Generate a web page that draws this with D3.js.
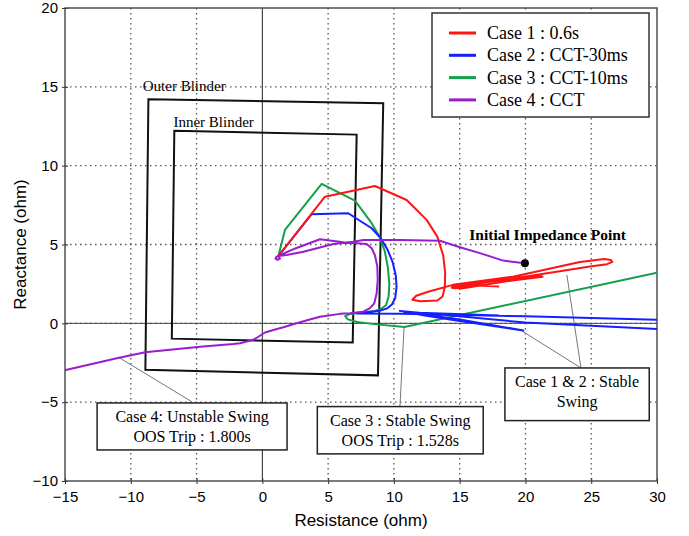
<!DOCTYPE html>
<html>
<head>
<meta charset="utf-8">
<script src="https://cdnjs.cloudflare.com/ajax/libs/d3/7.8.5/d3.min.js"></script>
<style>
  body { margin: 0; background: #fff; }
  svg { display: block; }
</style>
</head>
<body>
<div class="canvas"></div>
<script>
// ---- data (R, X) in ohm ----
const xTicks = [-15, -10, -5, 0, 5, 10, 15, 20, 25, 30];
const yTicks = [-10, -5, 0, 5, 10, 15, 20];

const seriesNames = ["Case 1 : 0.6s", "Case 2 : CCT-30ms", "Case 3 : CCT-10ms", "Case 4 : CCT"];
const seriesColors = ["#ff1414", "#1420ff", "#12a048", "#9a1ccf"];

const case1 = [
  [1.22, 4.27], [4.76, 8.03], [8.56, 8.71], [10.97, 7.82], [12.49, 6.56], [13.3, 5.5],
  [13.75, 4.3], [13.9, 3.2], [13.87, 2.3], [13.7, 1.7], [13.3, 1.45], [12.0, 1.4],
  [11.4, 1.5], [11.7, 1.75], [12.6, 2.0], [14.49, 2.44], [19.05, 2.96], [24.14, 3.89],
  [26.0, 4.08], [26.5, 4.02], [26.6, 3.9], [26.2, 3.75], [24.9, 3.6], [20.3, 3.0],
  [15.5, 2.45], [14.5, 2.33], [14.4, 2.25], [14.7, 2.22], [17.0, 2.6], [21.0, 3.05],
  [21.3, 2.95], [19.0, 2.72], [15.0, 2.2], [14.6, 2.28], [16.5, 2.4], [18.0, 2.33]
];
const case2 = [
  [1.22, 4.27], [3.75, 6.92], [6.53, 6.98], [8.31, 6.03], [9.0, 5.4], [9.5, 4.7],
  [9.9, 3.9], [10.15, 3.0], [10.2, 2.3], [10.1, 1.6], [9.85, 1.2], [9.5, 0.95],
  [8.9, 0.8], [8.0, 0.7], [7.17, 0.63], [10.5, 0.6], [20.0, 0.45], [31.0, 0.2],
  [31.0, -0.4], [20.0, 0.05], [10.45, 0.79], [15.0, 0.25], [19.84, -0.46], [15.0, 0.15],
  [10.8, 0.7], [18.0, 0.5]
];
const case3 = [
  [1.22, 4.27], [1.72, 5.92], [4.51, 8.84], [7.04, 7.78], [8.31, 6.35], [8.9, 5.5],
  [9.3, 4.6], [9.55, 3.5], [9.65, 2.5], [9.6, 1.7], [9.4, 1.15], [9.0, 0.9],
  [8.4, 0.76], [7.4, 0.68], [6.6, 0.58], [6.3, 0.45], [6.5, 0.25], [7.2, 0.08],
  [8.5, -0.05], [10.8, -0.23], [30.0, 3.21]
];
const case4 = [
  [19.96, 3.81], [18.31, 3.98], [16.54, 4.45], [15.02, 4.83], [13.5, 5.24], [10.46, 5.29],
  [7.67, 5.29], [6.91, 5.18], [5.4, 5.03], [3.12, 4.54], [1.85, 4.34], [1.22, 4.27],
  [1.05, 4.2], [1.0, 4.1], [1.15, 4.03], [1.35, 4.1], [1.22, 4.27], [2.5, 4.75],
  [4.38, 5.33], [6.16, 5.15], [7.93, 5.03], [8.31, 4.76], [8.56, 4.32], [8.74, 3.6],
  [8.77, 2.75], [8.69, 1.91], [8.51, 1.27], [8.18, 0.96], [7.67, 0.74], [6.66, 0.64],
  [5.9, 0.6], [4.38, 0.42], [3.4, 0.2], [2.61, 0.01], [1.6, -0.25], [0.84, -0.42],
  [0.2, -0.58], [-0.3, -0.85], [-0.7, -1.05], [-1.69, -1.26], [-2.2, -1.31], [-4.73, -1.48],
  [-8.91, -1.83], [-11.06, -2.21], [-14.86, -2.95], [-16.0, -3.18]
];
const allCases = [case1, case2, case3, case4];

const outerBlinder = [[-8.66, 14.21], [9.19, 13.96], [8.79, -3.3], [-8.89, -2.95]];
const innerBlinder = [[-6.69, 12.22], [7.17, 11.97], [6.87, -1.22], [-6.88, -0.97]];

const initialPoint = [19.96, 3.81];

// annotation boxes: [x0, y0, x1, y1] in ohm, text lines, leader lines
const notes = [
  { box: [-12.56, -5.05, 1.88, -8.03], lines: ["Case 4: Unstable Swing", "OOS Trip : 1.800s"],
    leaders: [[[-10.94, -2.15], [-5.36, -4.97]]] },
  { box: [4.18, -5.28, 16.79, -8.28], lines: ["Case 3 : Stable Swing", "OOS Trip : 1.528s"],
    leaders: [[[10.77, -0.29], [10.46, -5.28]]] },
  { box: [18.44, -2.83, 29.41, -6.17], lines: ["Case 1 & 2 : Stable", "Swing"],
    leaders: [[[23.15, 3.07], [24.22, -2.83]], [[19.73, -0.48], [24.22, -2.83]]] }
];

// ---- layout ----
const w = 689;
const h = 536;
const margin = { top: 8, right: 32, bottom: 55, left: 65 };
const graphWidth = w - margin.left - margin.right;
const graphHeight = h - margin.top - margin.bottom;

const svg = d3.select(".canvas").append("svg").attr("width", w).attr("height", h);

const graph = svg.append("g").attr("transform", `translate(${margin.left}, ${margin.top})`);

const xScale = d3.scaleLinear().domain([-15, 30]).range([0, graphWidth]);
const yScale = d3.scaleLinear().domain([-10, 20]).range([graphHeight, 0]);

svg.append("defs").append("clipPath").attr("id", "clip")
  .append("rect").attr("width", graphWidth).attr("height", graphHeight);

// dotted grid
graph.append("g").selectAll("line")
  .data(xTicks.filter((d) => d !== 0 && d !== -15 && d !== 30))
  .join("line")
  .attr("x1", (d) => xScale(d)).attr("x2", (d) => xScale(d))
  .attr("y1", 0).attr("y2", graphHeight)
  .attr("stroke", "#555").attr("stroke-width", 1.3).attr("stroke-dasharray", "1.5,3.5");

graph.append("g").selectAll("line")
  .data(yTicks.filter((d) => d !== -10 && d !== 20))
  .join("line")
  .attr("x1", 0).attr("x2", graphWidth)
  .attr("y1", (d) => yScale(d)).attr("y2", (d) => yScale(d))
  .attr("stroke", "#555").attr("stroke-width", 1.3).attr("stroke-dasharray", "1.5,3.5");

// zero axes
graph.append("line")
  .attr("x1", xScale(0)).attr("x2", xScale(0)).attr("y1", 0).attr("y2", graphHeight)
  .attr("stroke", "#222").attr("stroke-width", 1);
graph.append("line")
  .attr("x1", 0).attr("x2", graphWidth).attr("y1", yScale(0)).attr("y2", yScale(0))
  .attr("stroke", "#444").attr("stroke-width", 1);

// axes
const xAxis = d3.axisBottom(xScale).tickValues(xTicks).tickSizeInner(4).tickSizeOuter(0).tickPadding(6);
const yAxis = d3.axisLeft(yScale).tickValues(yTicks).tickSizeInner(4).tickSizeOuter(0).tickPadding(3);

const gx = graph.append("g").attr("transform", `translate(0, ${graphHeight})`).call(xAxis);
const gy = graph.append("g").call(yAxis);
[gx, gy].forEach((g) => {
  g.select(".domain").remove();
  g.selectAll("text").style("font-family", "Liberation Sans, Arial, sans-serif").style("font-size", "15px").attr("fill", "#000");
  g.selectAll("line").attr("stroke", "#333");
});
gx.selectAll(".tick line").attr("y1", -3).attr("y2", 3);
gy.selectAll(".tick line").attr("x1", -3).attr("x2", 3);

// frame
graph.append("rect")
  .attr("width", graphWidth).attr("height", graphHeight)
  .attr("fill", "none").attr("stroke", "#444").attr("stroke-width", 1.4);

// axis titles
svg.append("text")
  .attr("x", margin.left + graphWidth / 2).attr("y", h - 10)
  .attr("text-anchor", "middle")
  .style("font-family", "Liberation Sans, Arial, sans-serif").style("font-size", "17px")
  .text("Resistance (ohm)");
svg.append("text")
  .attr("transform", `translate(26, ${margin.top + graphHeight / 2}) rotate(-90)`)
  .attr("text-anchor", "middle")
  .style("font-family", "Liberation Sans, Arial, sans-serif").style("font-size", "17px")
  .text("Reactance (ohm)");

// blinders
const polyLine = d3.line().x((d) => xScale(d[0])).y((d) => yScale(d[1])).curve(d3.curveLinearClosed);
[outerBlinder, innerBlinder].forEach((b) => {
  graph.append("path").attr("d", polyLine(b))
    .attr("fill", "none").attr("stroke", "#111").attr("stroke-width", 2);
});

graph.append("text")
  .attr("x", xScale(-9.09)).attr("y", yScale(14.76))
  .style("font-family", "Liberation Serif, Times New Roman, serif").style("font-size", "15px")
  .text("Outer Blinder");
graph.append("text")
  .attr("x", xScale(-6.76)).attr("y", yScale(12.47))
  .style("font-family", "Liberation Serif, Times New Roman, serif").style("font-size", "15px")
  .text("Inner Blinder");

// leader lines
notes.forEach((n) => {
  n.leaders.forEach((l) => {
    graph.append("line")
      .attr("x1", xScale(l[0][0])).attr("y1", yScale(l[0][1]))
      .attr("x2", xScale(l[1][0])).attr("y2", yScale(l[1][1]))
      .attr("stroke", "#777").attr("stroke-width", 1);
  });
});

// swing curves
const swing = d3.line().x((d) => xScale(d[0])).y((d) => yScale(d[1]));
const curves = graph.append("g").attr("clip-path", "url(#clip)");
[2, 1, 0, 3].forEach((i) => {
  curves.append("path").attr("d", swing(allCases[i]))
    .attr("fill", "none").attr("stroke", seriesColors[i]).attr("stroke-width", 2)
    .attr("stroke-linejoin", "round");
});

// initial impedance point
graph.append("circle")
  .attr("cx", xScale(initialPoint[0])).attr("cy", yScale(initialPoint[1])).attr("r", 4)
  .attr("fill", "#000");
graph.append("text")
  .attr("x", xScale(15.73)).attr("y", yScale(5.29))
  .style("font-family", "Liberation Serif, Times New Roman, serif").style("font-size", "15.5px")
  .style("font-weight", "bold")
  .text("Initial Impedance Point");

// note boxes
notes.forEach((n) => {
  const x0 = xScale(n.box[0]), y0 = yScale(n.box[1]);
  const x1 = xScale(n.box[2]), y1 = yScale(n.box[3]);
  graph.append("rect")
    .attr("x", x0).attr("y", y0).attr("width", x1 - x0).attr("height", y1 - y0)
    .attr("fill", "#fff").attr("stroke", "#222").attr("stroke-width", 1.5);
  const t = graph.append("text")
    .attr("text-anchor", "middle")
    .style("font-family", "Liberation Serif, Times New Roman, serif").style("font-size", "16px");
  n.lines.forEach((s, k) => {
    t.append("tspan").attr("x", (x0 + x1) / 2).attr("y", y0 + 19 + k * 20).text(s);
  });
});

// legend
const legend = svg.append("g").attr("transform", "translate(432, 13)");
legend.append("rect")
  .attr("width", 217).attr("height", 104)
  .attr("fill", "#fff").attr("stroke", "#333").attr("stroke-width", 1.5);
const rows = legend.selectAll("g.row").data(seriesNames).join("g")
  .attr("class", "row")
  .attr("transform", (d, i) => `translate(0, ${20 + i * 22.3})`);
rows.append("line")
  .attr("x1", 17).attr("x2", 44).attr("y1", 0).attr("y2", 0)
  .attr("stroke", (d, i) => seriesColors[i]).attr("stroke-width", 3);
rows.append("text")
  .attr("x", 55).attr("y", 6)
  .style("font-family", "Liberation Serif, Times New Roman, serif").style("font-size", "18px")
  .text((d) => d);
</script>
</body>
</html>
